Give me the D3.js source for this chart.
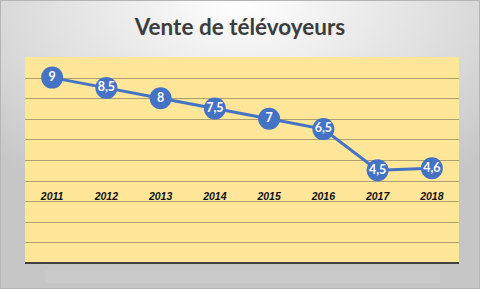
<!DOCTYPE html>
<html>
<head>
<meta charset="utf-8">
<script src="https://cdn.jsdelivr.net/npm/d3@7"></script>
<style>
  body { margin: 0; background: #fff; }
  svg { display: block; }
</style>
</head>
<body>
<div id="chart"></div>
<script>
var years = ["2011", "2012", "2013", "2014", "2015", "2016", "2017", "2018"];
var sales = [9, 8.5, 8, 7.5, 7, 6.5, 4.5, 4.6];
var gridValues = [1, 2, 3, 4, 5, 6, 7, 8, 9];

var width = 480, height = 289;
var plot = { left: 25, right: 459, top: 57, bottom: 263 };

var svg = d3.select("#chart").append("svg")
    .attr("width", width)
    .attr("height", height);

var defs = svg.append("defs");
var bg = defs.append("radialGradient")
    .attr("id", "bg")
    .attr("cx", "50%").attr("cy", "0%")
    .attr("r", "75%");
bg.append("stop").attr("offset", "0%").attr("stop-color", "#ffffff");
bg.append("stop").attr("offset", "100%").attr("stop-color", "#c6c6c6");

svg.append("rect")
    .attr("x", 0.5).attr("y", 0.5)
    .attr("width", width - 1).attr("height", height - 1)
    .attr("fill", "url(#bg)")
    .attr("stroke", "#b5b5b5");

// faint band below the plot
svg.append("rect")
    .attr("x", 45).attr("y", 271)
    .attr("width", 395).attr("height", 12)
    .attr("fill", "#d0d0d0")
    .attr("opacity", 0.4);

svg.append("text")
    .attr("x", width / 2)
    .attr("y", 35)
    .attr("text-anchor", "middle")
    .style("font-family", "Lato, 'Open Sans', sans-serif")
    .style("font-weight", "bold")
    .style("font-size", "22.5px")
    .style("fill", "#3d3d3d")
    .text("Vente de télévoyeurs");

var x = d3.scalePoint()
    .domain(years)
    .range([plot.left, plot.right])
    .padding(0.5);

var y = d3.scaleLinear()
    .domain([0, 10])
    .range([plot.bottom, plot.top]);

svg.append("rect")
    .attr("x", plot.left).attr("y", plot.top)
    .attr("width", plot.right - plot.left)
    .attr("height", plot.bottom - plot.top)
    .attr("fill", "#ffe699");

svg.selectAll(".grid")
    .data(gridValues)
    .enter()
    .append("line")
    .attr("x1", plot.left).attr("x2", plot.right)
    .attr("y1", function (d) { return Math.round(y(d)) + 0.5; })
    .attr("y2", function (d) { return Math.round(y(d)) + 0.5; })
    .attr("stroke", "#ad9f72")
    .attr("stroke-width", 1);

// bottom axis line
svg.append("line")
    .attr("x1", plot.left).attr("x2", plot.right)
    .attr("y1", y(0)).attr("y2", y(0))
    .attr("stroke", "#404040")
    .attr("stroke-width", 2);

// year labels
svg.selectAll(".year")
    .data(years)
    .enter()
    .append("text")
    .attr("x", function (d) { return x(d); })
    .attr("y", 200)
    .attr("text-anchor", "middle")
    .style("font-family", "'Liberation Sans', Arial, sans-serif")
    .style("font-weight", "bold")
    .style("font-style", "italic")
    .style("font-size", "10.5px")
    .style("fill", "#111")
    .text(function (d) { return d; });

var line = d3.line()
    .x(function (d, i) { return x(years[i]); })
    .y(function (d) { return y(d); });

svg.append("path")
    .datum(sales)
    .attr("d", line)
    .attr("fill", "none")
    .attr("stroke", "#4472c4")
    .attr("stroke-width", 3);

svg.selectAll(".dot")
    .data(sales)
    .enter()
    .append("circle")
    .attr("cx", function (d, i) { return x(years[i]); })
    .attr("cy", function (d) { return y(d); })
    .attr("r", 11)
    .attr("fill", "#4472c4");

svg.selectAll(".val")
    .data(sales)
    .enter()
    .append("text")
    .attr("x", function (d, i) { return x(years[i]); })
    .attr("y", function (d) { return y(d) - 1; })
    .attr("dy", "0.35em")
    .attr("text-anchor", "middle")
    .style("font-family", "Lato, 'Open Sans', sans-serif")
    .style("font-weight", "bold")
    .style("font-size", "12.5px")
    .style("fill", "#ffffff")
    .text(function (d) { return String(d).replace(".", ","); });
</script>
</body>
</html>
